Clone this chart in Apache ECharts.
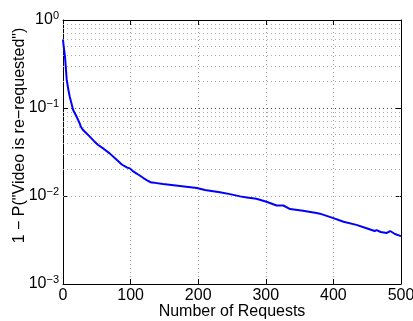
<!DOCTYPE html>
<html>
<head>
<meta charset="utf-8">
<script src="https://cdn.jsdelivr.net/npm/echarts@6/dist/echarts.min.js"></script>
<style>html,body{margin:0;padding:0;background:#fff}#c{width:413px;height:321px}</style>
</head>
<body>
<div id="c"></div>
<script>
var requests = [0, 1, 3, 5.5, 8, 10, 15, 20, 25, 26, 27, 29, 32, 40, 46, 52, 60, 69, 79, 87, 95, 99, 104, 109, 119, 126, 131, 136, 148, 173, 198, 210, 232, 247, 262, 272, 286, 301, 316, 326, 336, 355, 375, 380, 400, 415, 434, 449, 461, 464, 470, 479, 484, 491, 500];
var probNotReq = [0.60, 0.50, 0.38, 0.21, 0.16, 0.134, 0.095, 0.08, 0.066, 0.062, 0.064, 0.057, 0.054, 0.047, 0.042, 0.038, 0.0345, 0.0305, 0.026, 0.0228, 0.021, 0.0206, 0.019, 0.018, 0.016, 0.0148, 0.0142, 0.0141, 0.0137, 0.013, 0.0123, 0.0117, 0.011, 0.0105, 0.0099, 0.0096, 0.0093, 0.0086, 0.0078, 0.0078, 0.0071, 0.0068, 0.0064, 0.0063, 0.0056, 0.0051, 0.0047, 0.0043, 0.0040, 0.0041, 0.0039, 0.0038, 0.0040, 0.0037, 0.0035];
var xTicks = [0, 100, 200, 300, 400, 500];
var minorGridValues = [0.002,0.003,0.004,0.005,0.006,0.007,0.008,0.009,0.02,0.03,0.04,0.05,0.06,0.07,0.08,0.09,0.2,0.3,0.4,0.5,0.6,0.7,0.8,0.9];
var xTitle = 'Number of Requests';
var yTitle = '1 \u2212 P("Video is re\u2212requested")';

var chart = echarts.init(document.getElementById('c'), null, {renderer: 'canvas'});
var font = 'Liberation Sans, Arial, Helvetica, sans-serif';
var data = requests.map(function (x, i) { return [x, probNotReq[i]]; });

function expLabel(v) {
  var e = Math.round(Math.log10(v));
  var s = e < 0 ? '\u2212' + (-e) : String(e);
  return '10{s|' + s + '}';
}

chart.setOption({
  animation: false,
  grid: {left: 63, top: 20, right: 12, bottom: 37, containLabel: false, outerBoundsMode: 'none'},
  xAxis: [{
    type: 'value', min: 0, max: 500, interval: 100, position: 'bottom',
    name: xTitle, nameLocation: 'middle', nameGap: 20, nameMoveOverlap: false,
    nameTextStyle: {color: '#000', fontSize: 16, fontFamily: font},
    axisLine: {show: true, onZero: false, lineStyle: {color: '#000', width: 1}},
    axisTick: {show: true, inside: true, length: 5, lineStyle: {color: '#000'}},
    axisLabel: {color: '#000', fontSize: 16, fontFamily: font, margin: 4, hideOverlap: false,
      formatter: function (v) { return xTicks.indexOf(v) >= 0 ? String(v) : ''; }},
    splitLine: {show: true, lineStyle: {color: '#999', type: [1, 3], width: 1}}
  }, {
    type: 'value', min: 0, max: 500, interval: 100, position: 'top',
    axisLine: {show: true, onZero: false, lineStyle: {color: '#000', width: 1}},
    axisTick: {show: true, inside: true, length: 5, lineStyle: {color: '#000'}},
    axisLabel: {show: false}, splitLine: {show: false}
  }],
  yAxis: [{
    type: 'log', logBase: 10, min: 0.001, max: 1, position: 'left',
    name: yTitle, nameLocation: 'middle', nameGap: 35, nameRotate: 90, nameMoveOverlap: false,
    nameTextStyle: {color: '#000', fontSize: 16, fontFamily: font, padding: [0, 0, 0, 33]},
    axisLine: {show: true, onZero: false, lineStyle: {color: '#000', width: 1}},
    axisTick: {show: true, inside: true, length: 5, lineStyle: {color: '#000'}},
    axisLabel: {color: '#000', fontSize: 16, fontFamily: font, margin: 4,
      formatter: expLabel,
      rich: {s: {fontSize: 11, fontFamily: font, color: '#000', padding: [0, 0, 9, 0]}}},
    splitLine: {show: true, lineStyle: {color: '#444', type: [1, 3], width: 1}}
  }, {
    type: 'log', logBase: 10, min: 0.001, max: 1, position: 'right',
    axisLine: {show: true, onZero: false, lineStyle: {color: '#000', width: 1}},
    axisTick: {show: true, inside: true, length: 5, lineStyle: {color: '#000'}},
    axisLabel: {show: false}, splitLine: {show: false}
  }],
  series: [{
    type: 'line', xAxisIndex: 0, yAxisIndex: 0, data: data,
    showSymbol: false, symbol: 'none', smooth: false,
    lineStyle: {color: '#0000ff', width: 2},
    z: 5,
    markLine: {
      silent: true, symbol: 'none', animation: false,
      label: {show: false},
      lineStyle: {color: '#aaa', type: [1, 3], width: 1},
      emphasis: {disabled: true},
      data: minorGridValues.map(function (v) { return {yAxis: v}; })
    }
  }]
});
</script>
</body>
</html>
